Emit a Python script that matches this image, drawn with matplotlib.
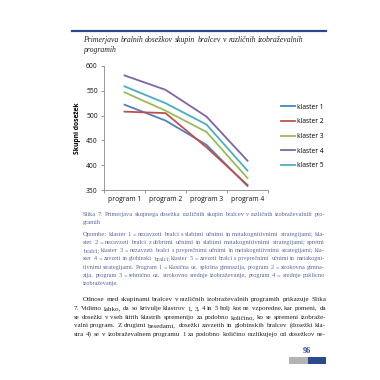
import matplotlib
matplotlib.use("Agg")
import matplotlib.pyplot as plt

# podatki z grafa
programs = ["program 1", "program 2", "program 3", "program 4"]
clusters = ["klaster 1", "klaster 2", "klaster 3", "klaster 4", "klaster 5"]
klaster1 = [522, 490, 441, 358]
klaster2 = [508, 505, 436, 360]
klaster3 = [547, 510, 467, 374]
klaster4 = [581, 552, 498, 409]
klaster5 = [559, 525, 482, 389]
yticks = [350, 400, 450, 500, 550, 600]

colors = ["#4F81BD", "#C0504D", "#9BBB59", "#8064A2", "#4BACC6"]

title_lines = [
    "Primerjava bralnih dosežkov skupin bralcev v različnih izobraževalnih",
    "programih",
]
caption_lines = [
    "Slika 7: Primerjava skupnega dosežka različnih skupin bralcev v različnih izobraževalnih pro-",
    "gramih",
]
note_lines = [
    "Opombe: klaster 1 = nezavzeti bralci s slabimi učnimi in metakognitivnimi strategijami; kla-",
    "ster 2 = nezavzeti bralci z dobrimi učnimi in slabimi metakognitivnimi strategijami; spretni",
    "bralci; klaster 3 = nezavzeti bralci s povprečnimi učnimi in metakognitivnimi strategijami; kla-",
    "ster 4 = zavzeti in globinski bralci; klaster 5 = zavzeti bralci s povprečnimi učnimi in metakogni-",
    "tivnimi strategijami. Program 1 = klasična oz. splošna gimnazija, program 2 = strokovna gimna-",
    "zija, program 3 = tehnično oz. strokovno srednje izobraževanje, program 4 = srednje poklicno",
    "izobraževanje.",
]
body_lines = [
    "Odnose med skupinami bralcev v različnih izobraževalnih programih prikazuje Slika",
    "7. Vidimo lahko, da so krivulje klastrov 1, 3, 4 in 5 bolj kot ne vzporedne, kar pomeni, da",
    "se dosežki v vseh štirih klastrih spremenijo za podobno količino, ko se spremeni izobraže-",
    "valni program. Z drugimi besedami, dosežki zavzetih in globinskih bralcev (dosežki kla-",
    "stra 4) se v izobraževalnem programu 1 za podobno količino razlikujejo od dosežkov ne-",
]

W = 380.0
fig = plt.figure(figsize=(3.8, 3.8), dpi=100)
fig.patch.set_facecolor("white")
renderer = fig.canvas.get_renderer()

def fx(px):
    return px / W

def fy(py):
    return 1 - py / W

def text_w(s, size, **kw):
    t = fig.text(0, 0, s, fontsize=size, **kw)
    w = t.get_window_extent(renderer).width
    t.remove()
    return w

def justify(line, x0, x1, y, size, full=True, **kw):
    # velikost pisave prilagojena širini, nato besede z enakomernim dodatkom
    y = round(y)  # osnovnica na celem pikslu, da besede ne skačejo
    words = line.split(" ")
    if full:
        size = size * min(max((x1 - x0) / text_w(line, size, **kw), 0.92), 1.08)
        natural = text_w(line, size, **kw)
        extra = (x1 - x0 - natural) / max(len(words) - 1, 1)
    else:
        extra = 0
    for k, w in enumerate(words):
        off = 0
        if k > 0:
            off = text_w(" ".join(words[:k + 1]), size, **kw) - text_w(w, size, **kw)
        fig.text(fx(x0 + off + k * extra), fy(y), w, va="baseline", fontsize=size, **kw)

serif = "Liberation Serif"
sans = "Open Sans"
blue = "#2B4A8E"

# glava strani
fig.add_artist(plt.Line2D([fx(72), fx(326)], [fy(31), fy(31)], color=blue, lw=1.6))
for i, t in enumerate(title_lines):
    justify(t, 83, 301, 42 + i * 10.5, 5.6, full=False, family=serif, style="italic",
            color="#222222")

# graf
ax = fig.add_axes([fx(104), fy(190), fx(268) - fx(104), fy(66) - fy(190)])
x = list(range(len(programs)))
for vals, col, lab in zip([klaster1, klaster2, klaster3, klaster4, klaster5], colors, clusters):
    ax.plot(x, vals, color=col, lw=1.3, label=lab)
ax.set_xlim(-0.5, len(programs) - 0.5)
ax.set_ylim(350, 600)
ax.set_yticks(yticks)
ax.set_xticks(x)
ax.set_xticklabels(programs)
ax.set_xticks([i - 0.5 for i in range(len(programs) + 1)], minor=True)
ax.tick_params(axis="x", which="major", length=0, pad=4, labelsize=4.9)
ax.tick_params(axis="x", which="minor", length=2.5, color="#888888", width=0.6)
ax.tick_params(axis="y", length=2.5, color="#888888", width=0.6, pad=2, labelsize=4.9)
for lab in ax.get_xticklabels() + ax.get_yticklabels():
    lab.set_family(sans)
    lab.set_color("#111111")
for s in ["top", "right"]:
    ax.spines[s].set_visible(False)
for s in ["left", "bottom"]:
    ax.spines[s].set_color("#888888")
    ax.spines[s].set_linewidth(0.6)
ax.set_ylabel("Skupni dosežek", family=sans, fontsize=4.9, fontweight="bold", labelpad=4)
ax.legend(loc="upper left", bbox_to_anchor=(fx(278), fy(101)), bbox_transform=fig.transFigure,
          frameon=False, prop={"family": sans, "size": 4.8}, handlelength=2.2,
          handletextpad=0.2, labelspacing=1.15, borderaxespad=0)

# podnapis in opombe
cap_col = "#5B6A9E"
left, right = 83, 325
y = 216
for i, t in enumerate(caption_lines):
    justify(t, left, right, y, 4.5, full=i < len(caption_lines) - 1,
            family=serif, color=cap_col)
    y += 8.3
y += 3.2
for i, t in enumerate(note_lines):
    justify(t, left, right, y, 4.4, full=i < len(note_lines) - 1,
            family=serif, color=cap_col)
    y += 8.2

# besedilo
y = 301
for i, t in enumerate(body_lines):
    justify(t, 83 if i == 0 else 74, 326, y, 5.0, family=serif, color="#222222")
    y += 8.8

# številka strani
fig.text(fx(307), fy(351), "96", family=serif, fontsize=6, fontweight="bold",
         color=blue, ha="center", va="center")
fig.add_artist(plt.Rectangle((fx(289), fy(364)), fx(19), fx(7), color="#B3B3B3", lw=0))
fig.add_artist(plt.Rectangle((fx(308), fy(364)), fx(18), fx(7), color=blue, lw=0))

fig.savefig("out.png", dpi=100, facecolor="white")
